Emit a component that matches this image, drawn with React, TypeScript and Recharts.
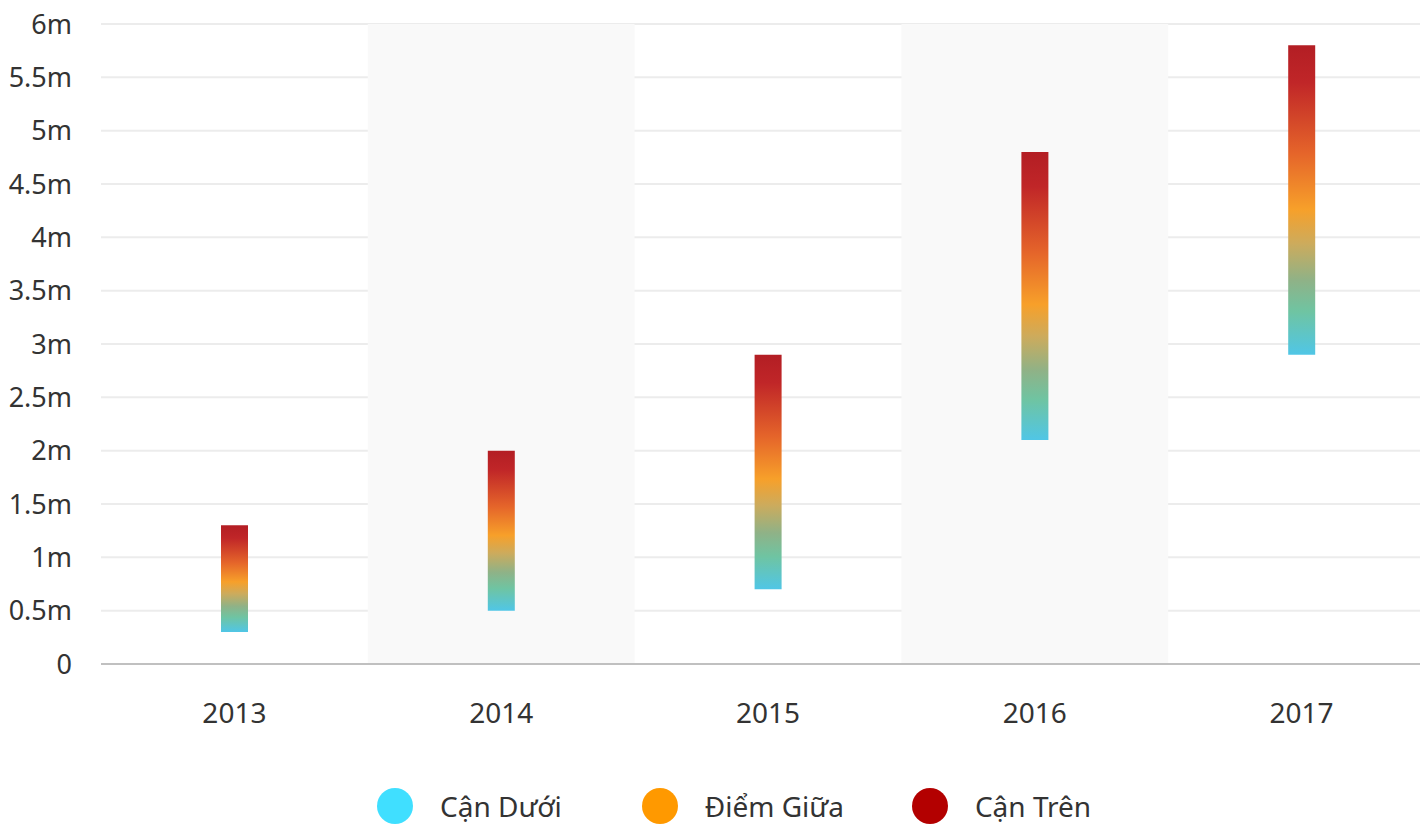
import React from 'react';
import { BarChart, Bar, XAxis, YAxis, CartesianGrid, ReferenceArea, Legend } from 'recharts';

const years = ['2013', '2014', '2015', '2016', '2017'];
const lowerValues = [300000, 500000, 700000, 2100000, 2900000];
const midValues = [800000, 1250000, 1800000, 3450000, 4350000];
const upperValues = [1300000, 2000000, 2900000, 4800000, 5800000];
const yTicks = [0, 500000, 1000000, 1500000, 2000000, 2500000, 3000000, 3500000, 4000000, 4500000, 5000000, 5500000, 6000000];
const bandYears = ['2014', '2016'];
const seriesNames = ['Cận Dưới', 'Điểm Giữa', 'Cận Trên'];
const seriesColors = ['#40dfff', '#ff9900', '#b30000'];
const legendGaps = [80, 68, 0];

const data = years.map((y, i) => ({
  year: y,
  range: [lowerValues[i], upperValues[i]],
  low: lowerValues[i],
  mid: midValues[i],
  high: upperValues[i],
}));

const FONT = '"Noto Sans", sans-serif';

const fmt = (v: number) => (v === 0 ? '0' : `${v / 1000000}m`);

const LegendContent = () => (
  <div style={{ display: 'flex', alignItems: 'center', height: 60, paddingLeft: 369, fontFamily: FONT }}>
    {seriesNames.map((n, i) => (
      <div key={n} style={{ display: 'flex', alignItems: 'center', marginRight: legendGaps[i] }}>
        <span style={{ display: 'inline-block', width: 36, height: 36, borderRadius: 18, background: seriesColors[i] }} />
        <span style={{ marginLeft: 27, fontSize: 28, color: '#333' }}>{n}</span>
      </div>
    ))}
  </div>
);

export default function App() {
  return (
    <div style={{ width: 1420, height: 816, overflow: 'hidden' }}>
      <BarChart width={1430} height={828} data={data} margin={{ top: 16, right: 3, left: 0, bottom: 0 }}>
        <defs>
          <linearGradient id="rangeGrad" x1="0" y1="0" x2="0" y2="1">
            <stop offset="0" stopColor="#b31e24" />
            <stop offset="0.12" stopColor="#c02628" />
            <stop offset="0.35" stopColor="#e5652a" />
            <stop offset="0.53" stopColor="#f7a02a" />
            <stop offset="0.64" stopColor="#cdab5c" />
            <stop offset="0.76" stopColor="#8fb287" />
            <stop offset="0.86" stopColor="#6fc4a2" />
            <stop offset="1" stopColor="#50c6e6" />
          </linearGradient>
        </defs>
        {bandYears.map((b) => (
          <ReferenceArea key={b} x1={b} x2={b} y1={0} y2={6000000} fill="#f9f9f9" fillOpacity={1} stroke="none" ifOverflow="extendDomain" />
        ))}
        <CartesianGrid vertical={false} stroke="#ececec" strokeWidth={2} />
        <XAxis
          dataKey="year"
          height={112}
          axisLine={{ stroke: '#c0c0c0', strokeWidth: 2 }}
          tickLine={false}
          tickSize={6}
          tickMargin={33}
          tick={{ fontSize: 28, fill: '#333', fontFamily: FONT }}
        />
        <YAxis
          width={93}
          domain={[0, 6000000]}
          ticks={yTicks}
          tickFormatter={fmt}
          axisLine={false}
          tickLine={false}
          tickSize={6}
          tickMargin={23}
          tick={{ fontSize: 27, fill: '#333', fontFamily: FONT }}
        />
        <Legend verticalAlign="bottom" height={60} content={LegendContent} />
        <Bar dataKey="range" barSize={27} fill="url(#rangeGrad)" isAnimationActive={false} />
      </BarChart>
    </div>
  );
}
